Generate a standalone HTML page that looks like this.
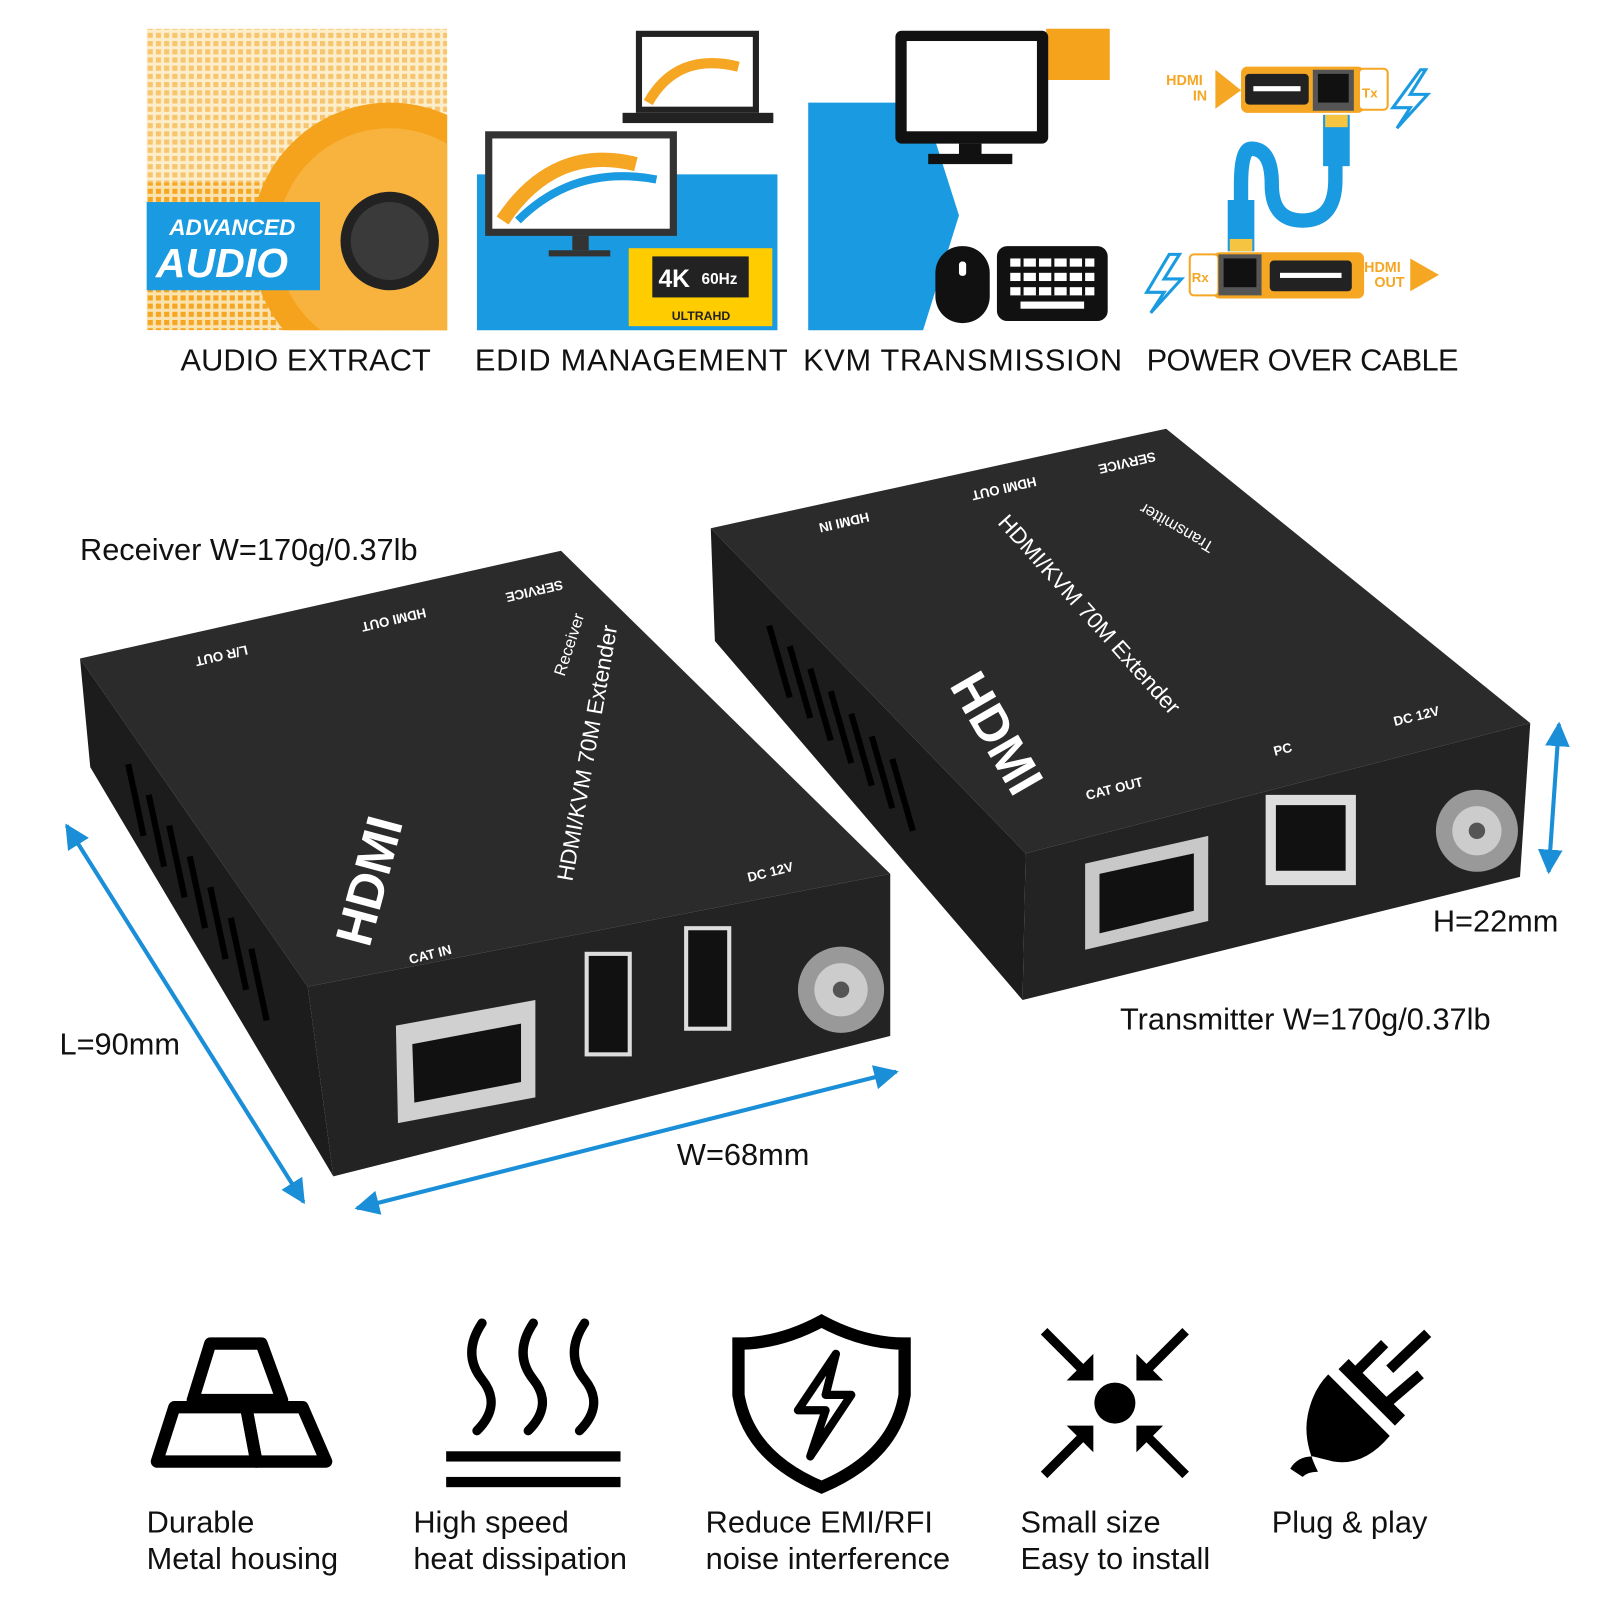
<!DOCTYPE html>
<html><head><meta charset="utf-8"><style>
html,body{margin:0;padding:0;background:#fff}
svg{display:block}
text{font-family:"Liberation Sans","DejaVu Sans",sans-serif}
</style></head><body>
<svg width="1600" height="1600" viewBox="0 0 1560 1560" xmlns="http://www.w3.org/2000/svg">
<defs>
<pattern id="grid" width="8" height="8" patternUnits="userSpaceOnUse"><rect width="8" height="8" fill="#fbe3b0"/><rect width="5" height="5" fill="#f5a623"/></pattern>
<marker id="ar" viewBox="0 0 10 10" refX="9" refY="5" markerWidth="6" markerHeight="6" orient="auto-start-reverse"><path d="M0,0 L10,5 L0,10 z" fill="#1a8fd8"/></marker>
<clipPath id="p1"><rect x="143" y="28" width="293" height="294"/></clipPath>
</defs>

<!-- Panel 1 audio -->
<g clip-path="url(#p1)">
<rect x="143" y="28" width="293" height="294" fill="url(#grid)"/>
<rect x="143" y="28" width="293" height="150" fill="#fff" opacity="0.35"/>
<circle cx="380" cy="235" r="135" fill="#f5a21c"/>
<circle cx="380" cy="235" r="110" fill="#f7b33d"/>
<circle cx="380" cy="235" r="48" fill="#222"/>
<circle cx="380" cy="235" r="38" fill="#3a3a3a"/>
</g>
<rect x="143" y="197" width="169" height="86" fill="#1a9ae0"/>
<text x="165" y="229" font-size="22" fill="#fff" font-style="italic" font-weight="bold">ADVANCED</text>
<text x="152" y="270" font-size="40" fill="#fff" font-style="italic" font-weight="bold">AUDIO</text>

<!-- Panel 2 EDID -->
<rect x="465" y="170" width="293" height="152" fill="#1a9ae0"/>
<rect x="473" y="128" width="187" height="102" fill="#333"/>
<rect x="480" y="135" width="173" height="88" fill="#fff"/>
<path d="M490,215 Q540,140 620,160" stroke="#f5a623" stroke-width="14" fill="none"/>
<path d="M505,215 Q560,160 640,175" stroke="#1a9ae0" stroke-width="8" fill="none"/>
<rect x="558" y="230" width="16" height="14" fill="#333"/><rect x="535" y="244" width="60" height="6" fill="#333"/>
<rect x="620" y="30" width="120" height="80" fill="#222"/>
<rect x="626" y="36" width="108" height="68" fill="#fff"/>
<path d="M632,100 Q660,50 720,65" stroke="#f5a623" stroke-width="10" fill="none"/>
<rect x="607" y="110" width="147" height="10" fill="#222"/>
<rect x="613" y="242" width="140" height="76" fill="#ffcc00"/>
<rect x="636" y="250" width="94" height="40" fill="#222"/>
<text x="642" y="280" font-size="24" font-weight="bold" fill="#fff">4K</text>
<text x="684" y="277" font-size="15" font-weight="bold" fill="#fff">60Hz</text>
<text x="655" y="312" font-size="12" font-weight="bold" fill="#222">ULTRAHD</text>

<!-- Panel 3 KVM -->
<polygon points="788,100 900,100 935,210 900,322 788,322" fill="#1a9ae0"/>
<rect x="1020" y="28" width="62" height="50" fill="#f5a21c"/>
<rect x="873" y="30" width="149" height="110" rx="6" fill="#111"/>
<rect x="884" y="40" width="127" height="88" fill="#fff"/>
<rect x="935" y="140" width="22" height="12" fill="#111"/><rect x="905" y="150" width="82" height="10" fill="#111"/>
<rect x="912" y="240" width="53" height="75" rx="26" fill="#111"/>
<rect x="935" y="255" width="7" height="14" rx="3" fill="#fff"/>
<rect x="972" y="240" width="108" height="73" rx="10" fill="#111"/>
<g fill="#fff"><rect x="985" y="252" width="82" height="8"/><rect x="985" y="266" width="82" height="8"/><rect x="985" y="280" width="82" height="8"/><rect x="995" y="294" width="62" height="7"/></g>
<g fill="#111"><rect x="995" y="252" width="3" height="36"/><rect x="1010" y="252" width="3" height="36"/><rect x="1025" y="252" width="3" height="36"/><rect x="1040" y="252" width="3" height="36"/><rect x="1055" y="252" width="3" height="36"/></g>

<!-- Panel 4 power over cable -->
<rect x="1210" y="65" width="120" height="45" rx="6" fill="#f5a623"/>
<rect x="1325" y="67" width="28" height="40" rx="4" fill="#fff" stroke="#f5a623" stroke-width="2"/>
<text x="1328" y="95" font-size="13" font-weight="bold" fill="#f5a623">Tx</text>
<rect x="1214" y="72" width="62" height="30" rx="4" fill="#222"/><rect x="1222" y="84" width="46" height="5" fill="#fff"/>
<rect x="1280" y="68" width="40" height="40" fill="#555"/><rect x="1285" y="72" width="30" height="28" fill="#111"/>
<polygon points="1185,68 1210,88 1185,106" fill="#f5a623"/>
<text x="1137" y="83" font-size="14" font-weight="bold" fill="#f5a623">HDMI</text>
<text x="1163" y="98" font-size="14" font-weight="bold" fill="#f5a623">IN</text>
<path d="M1385,68 L1358,105 L1375,105 L1362,125 L1392,92 L1375,92 L1390,68 z" fill="none" stroke="#1a9ae0" stroke-width="3"/>
<path d="M1302,135 L1302,175 Q1302,215 1270,215 Q1240,215 1240,180 Q1240,145 1220,145 Q1210,145 1210,180 L1210,215" stroke="#1a9ae0" stroke-width="14" fill="none"/>
<rect x="1290" y="112" width="26" height="50" fill="#1a9ae0"/><rect x="1292" y="112" width="22" height="12" fill="#f5c542"/>
<rect x="1197" y="195" width="26" height="50" fill="#1a9ae0"/><rect x="1199" y="233" width="22" height="12" fill="#f5c542"/>
<rect x="1183" y="246" width="147" height="45" rx="6" fill="#f5a623"/>
<rect x="1160" y="248" width="28" height="40" rx="4" fill="#fff" stroke="#f5a623" stroke-width="2"/>
<text x="1162" y="275" font-size="13" font-weight="bold" fill="#f5a623">Rx</text>
<rect x="1188" y="248" width="42" height="40" fill="#555"/><rect x="1193" y="252" width="32" height="28" fill="#111"/>
<rect x="1238" y="254" width="80" height="30" rx="4" fill="#222"/><rect x="1248" y="266" width="60" height="5" fill="#fff"/>
<text x="1330" y="265" font-size="14" font-weight="bold" fill="#f5a623">HDMI</text>
<text x="1340" y="280" font-size="14" font-weight="bold" fill="#f5a623">OUT</text>
<polygon points="1375,252 1403,268 1375,284" fill="#f5a623"/>
<path d="M1140,248 L1118,285 L1135,285 L1122,305 L1152,272 L1135,272 L1150,248 z" fill="none" stroke="#1a9ae0" stroke-width="3"/>

<!-- Top labels -->
<g font-size="30" fill="#111">
<text x="176" y="361" textLength="244">AUDIO EXTRACT</text>
<text x="463" y="361" textLength="305">EDID MANAGEMENT</text>
<text x="783" y="361" textLength="311">KVM TRANSMISSION</text>
<text x="1118" y="361" textLength="304">POWER OVER CABLE</text>
</g>

<!-- Transmitter -->
<polygon points="693,515 1137,418 1492,705 1000,832" fill="#2b2b2b"/>
<polygon points="1000,832 1492,705 1482,855 997,975" fill="#232323"/>
<polygon points="693,515 1000,832 997,975 697,625" fill="#1c1c1c"/>
<g stroke="#000" stroke-width="6">
<line x1="750" y1="610" x2="770" y2="680"/><line x1="770" y1="630" x2="790" y2="700"/><line x1="790" y1="652" x2="810" y2="722"/><line x1="810" y1="674" x2="830" y2="744"/><line x1="830" y1="696" x2="850" y2="766"/><line x1="850" y1="718" x2="870" y2="788"/><line x1="870" y1="740" x2="890" y2="810"/>
</g>
<polygon points="1058,842 1178,815 1178,898 1058,926" fill="#c8c8c8"/>
<polygon points="1072,852 1164,832 1164,888 1072,910" fill="#111"/>
<rect x="1234" y="775" width="88" height="88" fill="#ddd"/>
<rect x="1244" y="785" width="68" height="64" fill="#111"/>
<circle cx="1440" cy="810" r="40" fill="#999"/><circle cx="1440" cy="810" r="24" fill="#ccc"/><circle cx="1440" cy="810" r="8" fill="#555"/>
<g fill="#fff" font-size="13" font-weight="bold">
<text transform="translate(1098,447) rotate(167)" text-anchor="middle">SERVICE</text>
<text transform="translate(978,472) rotate(167)" text-anchor="middle">HDMI OUT</text>
<text transform="translate(822,505) rotate(167)" text-anchor="middle">HDMI IN</text>
<text transform="translate(1060,780) rotate(-14)">CAT OUT</text>
<text transform="translate(1243,737) rotate(-14)">PC</text>
<text transform="translate(1360,708) rotate(-14)">DC 12V</text>
<text transform="translate(972,510) rotate(48)" font-size="22" font-weight="normal">HDMI/KVM 70M Extender</text>
<text transform="translate(925,668) rotate(60)" font-size="50" font-weight="900">HDMI</text>
<text transform="translate(1150,510) rotate(-150)" text-anchor="middle" font-size="16" font-weight="normal">Transmitter</text>
</g>

<!-- Receiver -->
<polygon points="78,642 547,537 868,852 300,962" fill="#2b2b2b"/>
<polygon points="300,962 868,852 868,1010 325,1147" fill="#232323"/>
<polygon points="78,642 300,962 325,1147 88,748" fill="#1c1c1c"/>
<g stroke="#000" stroke-width="6">
<line x1="125" y1="745" x2="140" y2="815"/><line x1="145" y1="775" x2="160" y2="845"/><line x1="165" y1="805" x2="180" y2="875"/><line x1="185" y1="835" x2="200" y2="905"/><line x1="205" y1="865" x2="220" y2="935"/><line x1="225" y1="895" x2="240" y2="965"/><line x1="245" y1="925" x2="260" y2="995"/>
</g>
<polygon points="386,1000 522,975 522,1070 388,1095" fill="#d0d0d0"/>
<polygon points="402,1018 508,998 508,1055 404,1075" fill="#111"/>
<rect x="570" y="928" width="46" height="102" fill="#ddd"/><rect x="574" y="932" width="38" height="94" fill="#111"/>
<rect x="667" y="903" width="46" height="102" fill="#ddd"/><rect x="671" y="907" width="38" height="94" fill="#111"/>
<circle cx="820" cy="965" r="42" fill="#999"/><circle cx="820" cy="965" r="26" fill="#ccc"/><circle cx="820" cy="965" r="8" fill="#555"/>
<g fill="#fff" font-size="13" font-weight="bold">
<text transform="translate(520,572) rotate(167)" text-anchor="middle">SERVICE</text>
<text transform="translate(383,600) rotate(167)" text-anchor="middle">HDMI OUT</text>
<text transform="translate(215,635) rotate(167)" text-anchor="middle">L/R OUT</text>
<text transform="translate(400,940) rotate(-14)">CAT IN</text>
<text transform="translate(730,860) rotate(-14)">DC 12V</text>
<text transform="translate(558,860) rotate(-80)" font-size="22" font-weight="normal">HDMI/KVM 70M Extender</text>
<text transform="translate(360,925) rotate(-75)" font-size="50" font-weight="900">HDMI</text>
<text transform="translate(560,630) rotate(-72)" text-anchor="middle" font-size="16" font-weight="normal">Receiver</text>
</g>

<!-- dimension arrows -->
<g stroke="#1a8fd8" stroke-width="4" fill="none">
<line x1="65" y1="805" x2="296" y2="1172" marker-start="url(#ar)" marker-end="url(#ar)"/>
<line x1="348" y1="1178" x2="874" y2="1045" marker-start="url(#ar)" marker-end="url(#ar)"/>
<line x1="1520" y1="706" x2="1510" y2="850" marker-start="url(#ar)" marker-end="url(#ar)"/>
</g>
<g font-size="30" fill="#111">
<text x="78" y="546">Receiver W=170g/0.37lb</text>
<text x="58" y="1028">L=90mm</text>
<text x="660" y="1136">W=68mm</text>
<text x="1397" y="908">H=22mm</text>
<text x="1092" y="1004">Transmitter W=170g/0.37lb</text>
</g>

<!-- Bottom icons -->
<g fill="none" stroke="#000" stroke-width="12" stroke-linejoin="round">
<polygon points="205,1310 255,1310 275,1365 188,1365"/>
<polygon points="170,1372 240,1372 250,1425 153,1425"/>
<polygon points="240,1372 295,1372 318,1425 250,1425"/>
</g>
<g fill="none" stroke="#000" stroke-width="9" stroke-linecap="round">
<path d="M470,1290 Q450,1320 470,1345 Q490,1370 465,1395"/>
<path d="M520,1290 Q500,1320 520,1345 Q540,1370 515,1395"/>
<path d="M570,1290 Q550,1320 570,1345 Q590,1370 565,1395"/>
</g>
<rect x="435" y="1415" width="170" height="10" fill="#000"/>
<rect x="435" y="1440" width="170" height="10" fill="#000"/>
<path d="M801,1288 Q760,1310 720,1310 L720,1360 Q730,1420 801,1450 Q872,1420 882,1360 L882,1310 Q842,1310 801,1288 z" fill="none" stroke="#000" stroke-width="12"/>
<path d="M815,1320 L778,1375 L805,1375 L790,1420 L830,1360 L805,1360 z" fill="none" stroke="#000" stroke-width="8" stroke-linejoin="round"/>
<circle cx="1087" cy="1368" r="20" fill="#000"/>
<g stroke="#000" stroke-width="9">
<line x1="1018" y1="1298" x2="1060" y2="1340"/><line x1="1156" y1="1298" x2="1114" y2="1340"/>
<line x1="1018" y1="1438" x2="1060" y2="1396"/><line x1="1156" y1="1438" x2="1114" y2="1396"/>
</g>
<g fill="#000">
<polygon points="1066,1346 1040,1346 1066,1320"/><polygon points="1108,1346 1134,1346 1108,1320"/>
<polygon points="1066,1390 1040,1390 1066,1416"/><polygon points="1108,1390 1134,1390 1108,1416"/>
</g>
<path d="M1295,1340 L1355,1400 Q1330,1430 1300,1425 L1280,1420 Q1265,1420 1258,1432 L1270,1440 Q1275,1435 1285,1435 Q1270,1405 1275,1380 Q1280,1355 1295,1340 z" fill="#000"/>
<path d="M1310,1330 L1365,1385" stroke="#000" stroke-width="14"/>
<line x1="1320" y1="1340" x2="1350" y2="1310" stroke="#000" stroke-width="10"/>
<line x1="1350" y1="1370" x2="1385" y2="1340" stroke="#000" stroke-width="10"/>
<line x1="1355" y1="1335" x2="1392" y2="1300" stroke="#000" stroke-width="10"/>
<g font-size="30" fill="#111">
<text x="143" y="1494">Durable</text><text x="143" y="1530">Metal housing</text>
<text x="403" y="1494">High speed</text><text x="403" y="1530">heat dissipation</text>
<text x="688" y="1494">Reduce EMI/RFI</text><text x="688" y="1530">noise interference</text>
<text x="995" y="1494">Small size</text><text x="995" y="1530">Easy to install</text>
<text x="1240" y="1494">Plug &amp; play</text>
</g>
</svg>
</body></html>
